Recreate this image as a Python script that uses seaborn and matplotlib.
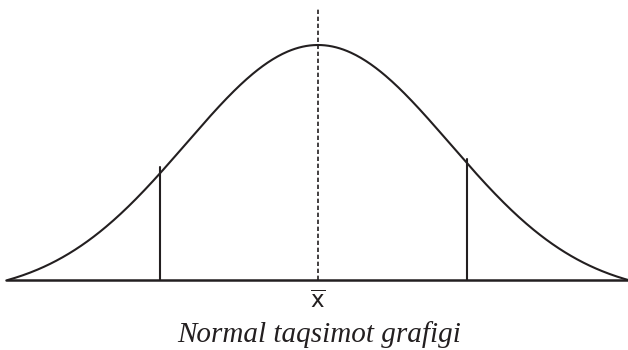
import numpy as np
import pandas as pd
import matplotlib.pyplot as plt
import seaborn as sns

sns.set_theme(style="white")
plt.rcParams['font.family'] = ['DejaVu Sans']

# Parametros de la curva normal (eje x en desviaciones estandar)
media = 0.0
desv = 1.0
limite = 2.35          # la curva toca la linea base en +-limite

# lineas verticales a ambos lados de la media: posicion y altura relativa
marcas_x = [-1.20, 1.13]
marcas_y = [0.481, 0.515]

etiqueta_media = r"$\overline{\mathsf{x}}$"
titulo = "Normal taqsimot grafigi"

# densidad normal, desplazada para que los extremos queden sobre la base
z = np.linspace(-limite, limite, 500)
g = np.exp(-0.5 * ((z - media) / desv) ** 2)
c = np.exp(-0.5 * (limite / desv) ** 2)
df = pd.DataFrame({'x': z, 'y': (g - c) / (1 - c)})

fig = plt.figure(figsize=(6.28, 3.5), dpi=100)
ax = fig.add_axes([6 / 628, 70 / 350, 622 / 628, 271 / 350])

sns.lineplot(data=df, x='x', y='y', color='#231f20', linewidth=1.5, ax=ax)

# linea base
ax.axhline(0, color='#231f20', linewidth=1.8, clip_on=False)

# linea de la media (punteada)
ax.axvline(media, ymin=0, ymax=1, color='#231f20', linewidth=1.2,
           linestyle=(0, (2.6, 1.6)))

# lineas verticales laterales
for mx, my in zip(marcas_x, marcas_y):
    ax.plot([mx, mx], [0, my], color='#231f20', linewidth=1.5)

ax.set_xlim(-312 / 132, 310 / 132)
ax.set_ylim(0, 271 / 235)
ax.set_axis_off()

fig.text(318 / 628, 1 - 302 / 350, etiqueta_media, ha='center', va='center',
         fontsize=16.5, color='#231f20')
fig.text(319 / 628, 1 - 335 / 350, titulo, ha='center', va='center',
         fontsize=21, fontstyle='italic', family=['Liberation Serif'],
         color='#231f20')

fig.savefig('out.png', dpi=100)
